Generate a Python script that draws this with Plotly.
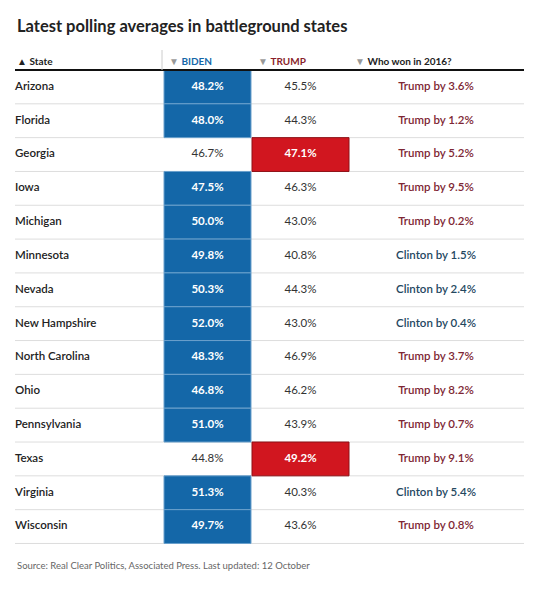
import plotly.graph_objects as go

states = ["Arizona", "Florida", "Georgia", "Iowa", "Michigan", "Minnesota", "Nevada",
          "New Hampshire", "North Carolina", "Ohio", "Pennsylvania", "Texas",
          "Virginia", "Wisconsin"]
biden = [48.2, 48.0, 46.7, 47.5, 50.0, 49.8, 50.3, 52.0, 48.3, 46.8, 51.0, 44.8, 51.3, 49.7]
trump = [45.5, 44.3, 47.1, 46.3, 43.0, 40.8, 44.3, 43.0, 46.9, 46.2, 43.9, 49.2, 40.3, 43.6]
winner_2016 = ["Trump", "Trump", "Trump", "Trump", "Trump", "Clinton", "Clinton",
               "Clinton", "Trump", "Trump", "Trump", "Trump", "Clinton", "Trump"]
margin_2016 = [3.6, 1.2, 5.2, 9.5, 0.2, 1.5, 2.4, 0.4, 3.7, 8.2, 0.7, 9.1, 5.4, 0.8]

title = "Latest polling averages in battleground states"
source = "Source: Real Clear Politics, Associated Press. Last updated: 12 October"

BLUE = "#1467a8"
RED = "#d1161f"
FONT = "Lato"
FS = 11.5

n = len(states)
rows = list(range(n))
# layout constants (pixel-like x units)
BX0, BX1 = 164, 251
TX0, TX1 = 252, 349
WX = 436
LX0, LX1 = 15, 524
row_px, top_px, H = 33.82, 70, 599
y_top = -top_px / row_px - 0.5
y_bot = (H - top_px) / row_px - 0.5


def py(p):
    """pixel row position -> y data units"""
    return (p - top_px) / row_px - 0.5


fig = go.Figure()

b_rows = [r for r in rows if biden[r] > trump[r]]
t_rows = [r for r in rows if trump[r] > biden[r]]

fig.add_trace(go.Bar(orientation="h", y=b_rows, x=[BX1 - BX0] * len(b_rows),
                     base=[BX0] * len(b_rows), width=1,
                     marker=dict(color=BLUE, line=dict(color="#6aa0cc", width=1)),
                     hoverinfo="skip", showlegend=False))
fig.add_trace(go.Bar(orientation="h", y=t_rows, x=[TX1 - TX0] * len(t_rows),
                     base=[TX0] * len(t_rows), width=1,
                     marker=dict(color=RED, line=dict(color="#8e1016", width=1)),
                     hoverinfo="skip", showlegend=False))

# row separator lines
for r in rows:
    fig.add_shape(type="line", x0=LX0, x1=LX1, y0=r + 0.5, y1=r + 0.5,
                  line=dict(color="#dddddd", width=1), layer="below")
fig.add_shape(type="line", x0=LX0, x1=LX1, y0=-0.5, y1=-0.5,
              line=dict(color="#111111", width=2), layer="above")
fig.add_shape(type="line", x0=BX0 - 2, x1=BX0 - 2, y0=-0.5, y1=py(50),
              line=dict(color="#cccccc", width=1))

# state names
fig.add_trace(go.Scatter(x=[LX0] * n, y=rows, mode="text", text=states,
                         textposition="middle right",
                         textfont=dict(family=FONT, size=FS, color="#222222", weight=600),
                         hoverinfo="skip", showlegend=False))

# biden values
fig.add_trace(go.Scatter(x=[(BX0 + BX1) / 2] * n, y=rows, mode="text",
                         text=[f"{v:.1f}%" for v in biden], textposition="middle center",
                         textfont=dict(family=FONT, size=FS,
                                       color=["white" if biden[r] > trump[r] else "#333333" for r in rows],
                                       weight=[700 if biden[r] > trump[r] else 400 for r in rows]),
                         hoverinfo="skip", showlegend=False))
# trump values
fig.add_trace(go.Scatter(x=[(TX0 + TX1) / 2] * n, y=rows, mode="text",
                         text=[f"{v:.1f}%" for v in trump], textposition="middle center",
                         textfont=dict(family=FONT, size=FS,
                                       color=["white" if trump[r] > biden[r] else "#333333" for r in rows],
                                       weight=[700 if trump[r] > biden[r] else 400 for r in rows]),
                         hoverinfo="skip", showlegend=False))
# 2016 winner
fig.add_trace(go.Scatter(x=[WX] * n, y=rows, mode="text",
                         text=[f"{w} by {m:.1f}%" for w, m in zip(winner_2016, margin_2016)],
                         textposition="middle center",
                         textfont=dict(family=FONT, size=FS,
                                       color=["#7d2633" if w == "Trump" else "#24485f" for w in winner_2016],
                                       weight=600),
                         hoverinfo="skip", showlegend=False))

ann = []
ann.append(dict(x=15, y=py(26), xref="x", yref="y", text=f"<b>{title}</b>", showarrow=False,
                xanchor="left", yanchor="middle", font=dict(family=FONT, size=16.5, color="#222222")))
hy = py(61)
hdr = [(LX0, '<span style="color:#222">▲</span> <b>State</b>', "#222222"),
       (BX0 + 3, '<span style="color:#999">▼</span> <b>BIDEN</b>', BLUE),
       (TX0 + 4, '<span style="color:#999">▼</span> <b>TRUMP</b>', "#8a1f2c"),
       (353, '<span style="color:#999">▼</span> <b>Who won in 2016?</b>', "#222222")]
for x, t, c in hdr:
    ann.append(dict(x=x, y=hy, xref="x", yref="y", text=t, showarrow=False,
                    xanchor="left", yanchor="middle", font=dict(family=FONT, size=10, color=c)))
ann.append(dict(x=15, y=py(565), xref="x", yref="y", text=source,
                showarrow=False, xanchor="left", yanchor="middle",
                font=dict(family=FONT, size=9.5, color="#666666")))

fig.update_layout(
    width=534, height=599, margin=dict(l=0, r=0, t=0, b=0),
    paper_bgcolor="white", plot_bgcolor="white",
    barmode="overlay", annotations=ann,
    xaxis=dict(range=[0, 534], visible=False, fixedrange=True),
    yaxis=dict(range=[y_bot, y_top], visible=False, fixedrange=True),
)

fig.write_html("out.html", config={"displayModeBar": False},
               post_script="document.body.style.margin='0';document.body.style.overflow='hidden';")
